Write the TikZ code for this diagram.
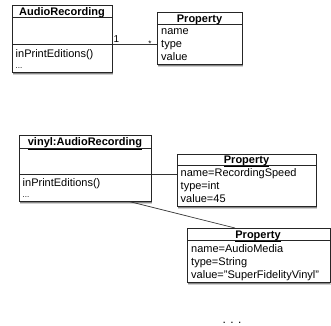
\documentclass[tikz,border=0pt]{standalone}
\usepackage{fontspec}
\setmainfont{Liberation Sans}
\usetikzlibrary{shadows}
\tikzset{
  cls/.style={draw=black!85,line width=0.7pt,fill=white,anchor=north west,inner sep=0pt,
    drop shadow={shadow xshift=1pt,shadow yshift=-3pt,fill=black,opacity=0.18},
    drop shadow={shadow xshift=0.5pt,shadow yshift=-1.6pt,fill=black,opacity=0.35}},
  ttl/.style={font=\fontsize{11}{13}\selectfont\bfseries,anchor=base,inner sep=0pt},
  txt/.style={font=\fontsize{11}{13}\selectfont,anchor=base west,inner sep=0pt},
  dots/.style={font=\fontsize{8}{10}\selectfont,anchor=base west,inner sep=0pt},
  mlab/.style={font=\fontsize{10}{12}\selectfont,anchor=base,inner sep=0pt},
  sep/.style={draw=black!85,line width=0.7pt},
  link/.style={black!80,line width=0.7pt}
}
\begin{document}
\begin{tikzpicture}[x=1pt,y=-1pt]
    \useasboundingbox (0,0) rectangle (331,325);
    % class and its property
    \node[cls,minimum width=100pt,minimum height=67pt] (rec) at (12,5) {};
    \node[cls,minimum width=85pt,minimum height=52pt] (prop) at (157,12) {};
    % instance and its two properties
    \node[cls,minimum width=132pt,minimum height=66pt] (vin) at (19,135) {};
    \node[cls,minimum width=139pt,minimum height=52pt] (propS) at (177,154) {};
    \node[cls,minimum width=142.5pt,minimum height=54pt] (propM) at (187,228) {};
    % compartments
    \coordinate (recA) at (12,17);
    \coordinate (recO) at (12,44);
    \coordinate (propA) at (157,24);
    \coordinate (vinA) at (19,148);
    \coordinate (vinO) at (19,174);
    \coordinate (propSA) at (177,165);
    \coordinate (propMA) at (187,240);
    \draw[sep] (recA) -- (recA -| rec.east);
    \draw[sep] (recO) -- (recO -| rec.east);
    \draw[sep] (propA) -- (propA -| prop.east);
    \draw[sep] (vinA) -- (vinA -| vin.east);
    \draw[sep] (vinO) -- (vinO -| vin.east);
    \draw[sep] (propSA) -- (propSA -| propS.east);
    \draw[sep] (propMA) -- (propMA -| propM.east);
    % texts
    \node[ttl] (recT) at (62,15.5) {AudioRecording};
    \node[txt] (recM1) at (15.5,57) {inPrintEditions()};
    \node[dots] (recM2) at (15.5,68.5) {...};
    \node[ttl] (propT) at (199.5,22) {Property};
    \node[txt] (propN) at (161,34) {name};
    \node[txt] (propY) at (161,47) {type};
    \node[txt] (propV) at (161,60) {value};
    \node[ttl] (vinT) at (85,145.5) {\underline{vinyl:AudioRecording}};
    \node[txt] (vinM1) at (22.5,186.5) {inPrintEditions()};
    \node[dots] (vinM2) at (22.5,197.5) {...};
    \node[ttl] (propST) at (246.5,163) {\underline{Property}};
    \node[txt] (propSN) at (180.5,176.5) {name=RecordingSpeed};
    \node[txt] (propSY) at (180.5,189.5) {type=int};
    \node[txt] (propSV) at (180.5,202) {value=45};
    \node[ttl] (propMT) at (258,238) {\underline{Property}};
    \node[txt] (propMN) at (191,252) {name=AudioMedia};
    \node[txt] (propMY) at (191,265) {type=String};
    \node[txt] (propMV) at (191,278) {value="SuperFidelityVinyl"};
    % links
    \draw[link] (recO -| rec.east) -- (recO -| prop.west);
    \node[mlab] (m1) at (116.5,42.5) {1};
    \node[mlab,font=\fontsize{8}{10}\selectfont] (m2) at (150,46) {*};
    \draw[link] (vinO -| vin.east) -- (vinO -| propS.west);
    \draw[link] ([xshift=111pt]vin.south west) -- ([xshift=48pt]propM.north west);
    \node[mlab,font=\fontsize{12}{14}\selectfont] (more) at (232,323.5) {. . .};
\end{tikzpicture}
\end{document}
